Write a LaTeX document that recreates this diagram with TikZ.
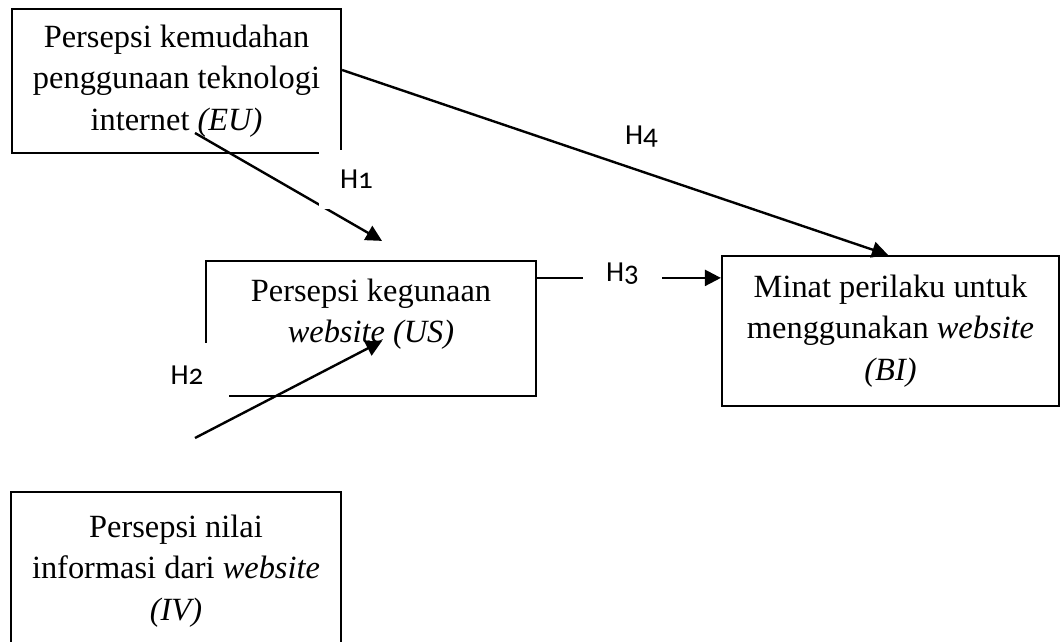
\documentclass[tikz,border=0pt]{standalone}
\usepackage{fontspec}
\setmainfont{Liberation Serif}
\newfontfamily\hfont[Numbers=OldStyle]{Carlito}
\usetikzlibrary{arrows.meta,calc}

\begin{document}
\begin{tikzpicture}[x=0.5pt,y=-0.5pt,
  varbox/.style={draw=black, line width=1.1pt, align=center, inner sep=0pt,
    font=\fontsize{16.2}{20.75}\selectfont},
  hypo/.style={draw=black, line width=1.2pt, -{Triangle[length=8pt,width=8pt]}},
  hlabel/.style={fill=white, inner sep=0pt, font=\hfont\fontsize{14.5}{16}\selectfont}]
\useasboundingbox (0,0) rectangle (1060,642);
\clip (0,0) rectangle (1060,642);
% variables
\node (eu) [varbox, minimum width=164.5pt, minimum height=72pt] at (176.5,81)
  {Persepsi kemudahan\\ penggunaan teknologi\\ internet \textit{(EU)}};
\node (us) [varbox, minimum width=165pt, minimum height=67.5pt] at (371,328.5)
  {Persepsi kegunaan\\ \textit{website (US)}\rule[-17.7pt]{0pt}{17.7pt}};
\node (bi) [varbox, minimum width=168.5pt, minimum height=75pt] at (890.5,331)
  {Minat perilaku untuk\\ menggunakan \textit{website}\\ \textit{(BI)}};
\node (iv) [varbox, minimum width=165pt, minimum height=79pt] at (176,571)
  {Persepsi nilai\\ informasi dari \textit{website}\\ \textit{(IV)}};
% hypotheses
\coordinate (h1-tail) at (195,133);
\coordinate (h2-tail) at (195,438);
\draw[hypo] (h1-tail) -- ($(us.north)+(11,-19)$);
\draw[hypo] (h2-tail) -- ($(us.center)+(11,12.5)$);
\draw[hypo] ($(eu.east)+(0,-11)$) -- ($(bi.north)+(-2.5,0)$);
\draw[hypo] ($(us.north east)+(0,18)$) -- ($(bi.north west)+(0,23)$);
% labels
\node (h1) [hlabel, minimum width=37.5pt, minimum height=29.5pt] at (356.5,179.5) {H1};
\node (h2) [hlabel, minimum width=42pt, minimum height=32pt] at (187,375) {H2};
\node (h3) [hlabel, minimum width=39.5pt, minimum height=15pt] at (622.5,274) {H3};
\node (h4) [hlabel] at (641.5,136.5) {H4};
\end{tikzpicture}
\end{document}
